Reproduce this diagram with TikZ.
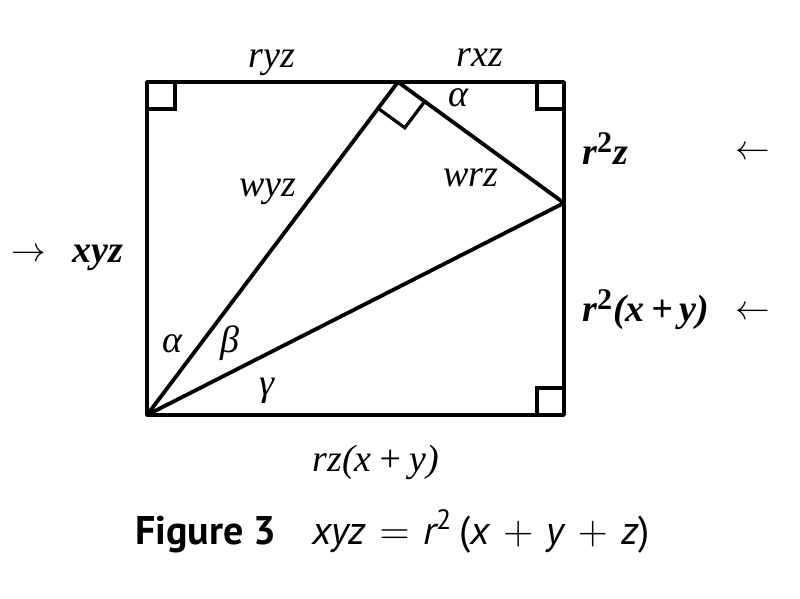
\documentclass[tikz,border=0pt]{standalone}
\usepackage{fontspec}
\usetikzlibrary{calc}
\setmainfont{Liberation Serif}
\newfontfamily\capfont{PT Sans}
\newcommand{\capgap}{\hspace{0.34em}}
\begin{document}
\begin{tikzpicture}[x=0.5pt,y=-0.5pt,
  edge/.style={line width=1.9pt,line cap=round,line join=round},
  rmark/.style={line width=1.6pt},
  lbl/.style={inner sep=0pt,font=\fontsize{19}{22}\selectfont\itshape},
  blbl/.style={inner sep=0pt,font=\fontsize{19}{22}\selectfont\bfseries\itshape},
  arr/.style={inner sep=0pt,font=\fontsize{17}{20}\selectfont},
  captext/.style={inner sep=0pt,font=\fontsize{20}{24}\selectfont\capfont}]
\useasboundingbox (0,0) rectangle (800,599);
\coordinate (A) at (147,82);
\coordinate (B) at (564,82);
\coordinate (C) at (564,415);
\coordinate (D) at (147,415);
\coordinate (P) at (398,82);
\coordinate (Q) at (564,203);
% rectangle and diagonals
\draw[edge] (A) -- (B) -- (C) -- (D) -- cycle;
\draw[edge] (D) -- (P) -- (Q) -- (D);
% right-angle marks
\draw[rmark] ($(A)+(0,27)$) -- ++(28,0) -- ++(0,-27);
\draw[rmark] ($(B)+(-27,0)$) -- ++(0,27) -- ++(27,0);
\draw[rmark] ($(C)+(-27,0)$) -- ++(0,-27) -- ++(27,0);
\coordinate (P1) at ($(P)!0.0791!(D)$);
\coordinate (P2) at ($(P)!0.1607!(Q)$);
\draw[rmark] (P1) -- ($(P1)+(P2)-(P)$) -- (P2);
% labels
\node[lbl,anchor=base] (ryz) at (272,68) {ryz};
\node[lbl,anchor=base] (rxz) at (480,67) {rxz};
\node[lbl,anchor=base] (a1) at (458,107) {α};
\node[lbl,anchor=base] (wrz) at (471,187) {wrz};
\node[lbl,anchor=base] (wyz) at (268,197) {wyz};
\node[lbl,anchor=base] (a2) at (172,353) {α};
\node[lbl,anchor=base] (b) at (230,353) {β};
\node[lbl,anchor=base] (g) at (267,396) {γ};
\node[lbl,anchor=base] (bot) at (376,472) {rz(x\,+\,y)};
\node[blbl,anchor=base west] (xyz) at (72,263) {xyz};
\node[arr] (la) at (29,255) {$\rightarrow$};
\node[blbl,anchor=base west] (r2z) at (582,165) {r\textsuperscript{\upshape\fontsize{15}{18}\selectfont 2}z};
\node[blbl,anchor=base west] (r2xy) at (582,322) {r\textsuperscript{\upshape\fontsize{15}{18}\selectfont 2}(x\,+\,y)};
\node[arr] (ra1) at (753,153) {$\leftarrow$};
\node[arr] (ra2) at (753,313) {$\leftarrow$};
\node[captext,anchor=base west] (fig) at (135,545) {\bfseries Figure 3};
\node[captext,anchor=base west] (eq) at (312,545) {\itshape xyz\capgap{\upshape$=$}\capgap r\textsuperscript{\upshape 2}\,{\upshape(}x\capgap{\upshape$+$}\capgap y\capgap{\upshape$+$}\capgap z{\upshape)}};
\end{tikzpicture}
\end{document}
